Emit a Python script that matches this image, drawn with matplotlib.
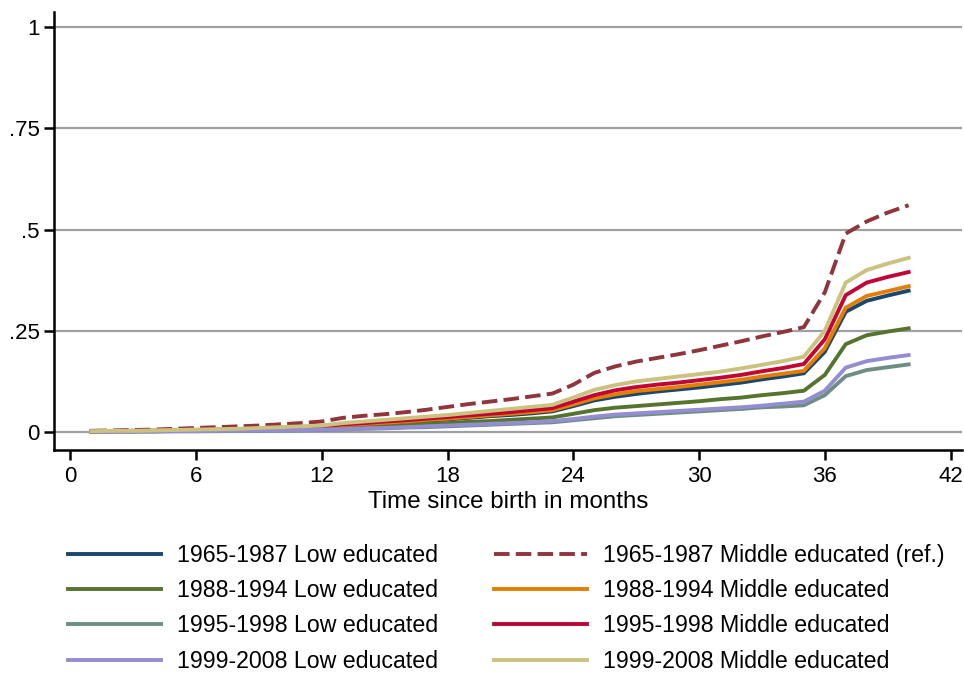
import matplotlib.pyplot as plt

plt.rcParams['font.family'] = ['Liberation Sans', 'DejaVu Sans']

# months since birth
months = list(range(1, 41))

# cumulative share
low_1965 = [0.002, 0.002, 0.002, 0.003, 0.003, 0.004, 0.005, 0.006, 0.007, 0.008,
            0.009, 0.011, 0.016, 0.019, 0.022, 0.025, 0.028, 0.031, 0.035, 0.039,
            0.042, 0.046, 0.051, 0.064, 0.078, 0.087, 0.094, 0.100, 0.105, 0.110,
            0.116, 0.122, 0.130, 0.137, 0.145, 0.198, 0.297, 0.324, 0.337, 0.349]
mid_1965 = [0.003, 0.004, 0.005, 0.006, 0.008, 0.010, 0.012, 0.014, 0.016, 0.019,
            0.022, 0.026, 0.035, 0.040, 0.044, 0.049, 0.055, 0.062, 0.069, 0.075,
            0.081, 0.088, 0.095, 0.117, 0.146, 0.162, 0.174, 0.183, 0.192, 0.202,
            0.213, 0.224, 0.236, 0.247, 0.259, 0.345, 0.490, 0.520, 0.542, 0.560]
low_1988 = [0.001, 0.002, 0.002, 0.002, 0.003, 0.003, 0.004, 0.004, 0.005, 0.006,
            0.007, 0.008, 0.011, 0.013, 0.015, 0.017, 0.020, 0.022, 0.025, 0.027,
            0.030, 0.033, 0.036, 0.045, 0.054, 0.060, 0.064, 0.068, 0.072, 0.076,
            0.081, 0.085, 0.091, 0.096, 0.102, 0.141, 0.217, 0.239, 0.248, 0.256]
mid_1988 = [0.002, 0.002, 0.002, 0.003, 0.004, 0.004, 0.005, 0.006, 0.007, 0.009,
            0.010, 0.012, 0.017, 0.020, 0.023, 0.026, 0.030, 0.033, 0.037, 0.041,
            0.045, 0.049, 0.054, 0.068, 0.083, 0.093, 0.101, 0.106, 0.111, 0.117,
            0.123, 0.129, 0.137, 0.144, 0.151, 0.207, 0.307, 0.336, 0.348, 0.360]
low_1995 = [0.001, 0.001, 0.001, 0.001, 0.002, 0.002, 0.002, 0.003, 0.003, 0.004,
            0.004, 0.005, 0.006, 0.008, 0.009, 0.011, 0.012, 0.014, 0.016, 0.018,
            0.020, 0.022, 0.024, 0.029, 0.034, 0.039, 0.042, 0.045, 0.048, 0.051,
            0.054, 0.057, 0.061, 0.063, 0.066, 0.091, 0.138, 0.153, 0.160, 0.167]
mid_1995 = [0.002, 0.002, 0.003, 0.003, 0.004, 0.005, 0.006, 0.007, 0.008, 0.010,
            0.012, 0.014, 0.019, 0.022, 0.026, 0.029, 0.033, 0.037, 0.041, 0.045,
            0.049, 0.054, 0.059, 0.075, 0.091, 0.103, 0.111, 0.117, 0.122, 0.128,
            0.134, 0.141, 0.150, 0.158, 0.168, 0.229, 0.338, 0.369, 0.383, 0.395]
low_1999 = [0.001, 0.001, 0.001, 0.002, 0.002, 0.002, 0.003, 0.003, 0.004, 0.004,
            0.005, 0.006, 0.007, 0.009, 0.010, 0.012, 0.014, 0.016, 0.018, 0.020,
            0.022, 0.024, 0.027, 0.032, 0.038, 0.043, 0.046, 0.049, 0.052, 0.055,
            0.058, 0.061, 0.065, 0.070, 0.075, 0.102, 0.159, 0.175, 0.183, 0.190]
mid_1999 = [0.002, 0.003, 0.003, 0.004, 0.005, 0.006, 0.007, 0.008, 0.010, 0.012,
            0.014, 0.016, 0.022, 0.026, 0.030, 0.034, 0.038, 0.042, 0.047, 0.052,
            0.057, 0.062, 0.067, 0.085, 0.104, 0.116, 0.125, 0.131, 0.137, 0.143,
            0.149, 0.157, 0.166, 0.175, 0.186, 0.250, 0.369, 0.400, 0.416, 0.430]

labels = ["1965-1987 Low educated", "1965-1987 Middle educated (ref.)",
          "1988-1994 Low educated", "1988-1994 Middle educated",
          "1995-1998 Low educated", "1995-1998 Middle educated",
          "1999-2008 Low educated", "1999-2008 Middle educated"]
series = [low_1965, mid_1965, low_1988, mid_1988, low_1995, mid_1995, low_1999, mid_1999]
colors = ["#1a476f", "#90353b", "#55752f", "#e37e00",
          "#6e8e84", "#c10534", "#938dd2", "#cac27e"]

xticks = [0, 6, 12, 18, 24, 30, 36, 42]
yticks = [0, 0.25, 0.5, 0.75, 1]
yticklabels = ["0", ".25", ".5", ".75", "1"]

fig = plt.figure(figsize=(9.64, 6.73), dpi=100)
ax = fig.add_axes([0.056, 0.331, 0.942, 0.651])

handles = []
for vals, lab, col in zip(series, labels, colors):
    ls = (0, (4, 1.6)) if "ref." in lab else '-'
    h, = ax.plot(months, vals, color=col, lw=2.8, ls=ls, label=lab,
                 solid_joinstyle='miter')
    handles.append(h)

ax.set_xlim(-0.78, 42.55)
ax.set_ylim(-0.045, 1.037)
ax.set_xticks(xticks)
ax.set_yticks(yticks)
ax.set_yticklabels(yticklabels)
ax.grid(axis='y', color='#a0a0a4', lw=1.6)
ax.set_axisbelow(True)

for s in ['top', 'right']:
    ax.spines[s].set_visible(False)
for s in ['left', 'bottom']:
    ax.spines[s].set_linewidth(1.8)
ax.tick_params(labelsize=16, width=1.8, length=7)
ax.tick_params(axis='x', pad=4)
ax.tick_params(axis='y', pad=3.5)
ax.set_xlabel("Time since birth in months", fontsize=17.4, labelpad=3)

# legend: low educated in left column, middle educated in right
order = [0, 2, 4, 6, 1, 3, 5, 7]
fig.legend([handles[i] for i in order], [labels[i] for i in order],
           loc='upper left', bbox_to_anchor=(0.0705, 0.192), ncol=2,
           frameon=False, fontsize=16.7, handlelength=4.0, handletextpad=0.72,
           columnspacing=2.38, labelspacing=0.53, borderpad=0, borderaxespad=0)

fig.savefig("out.png", dpi=100)
